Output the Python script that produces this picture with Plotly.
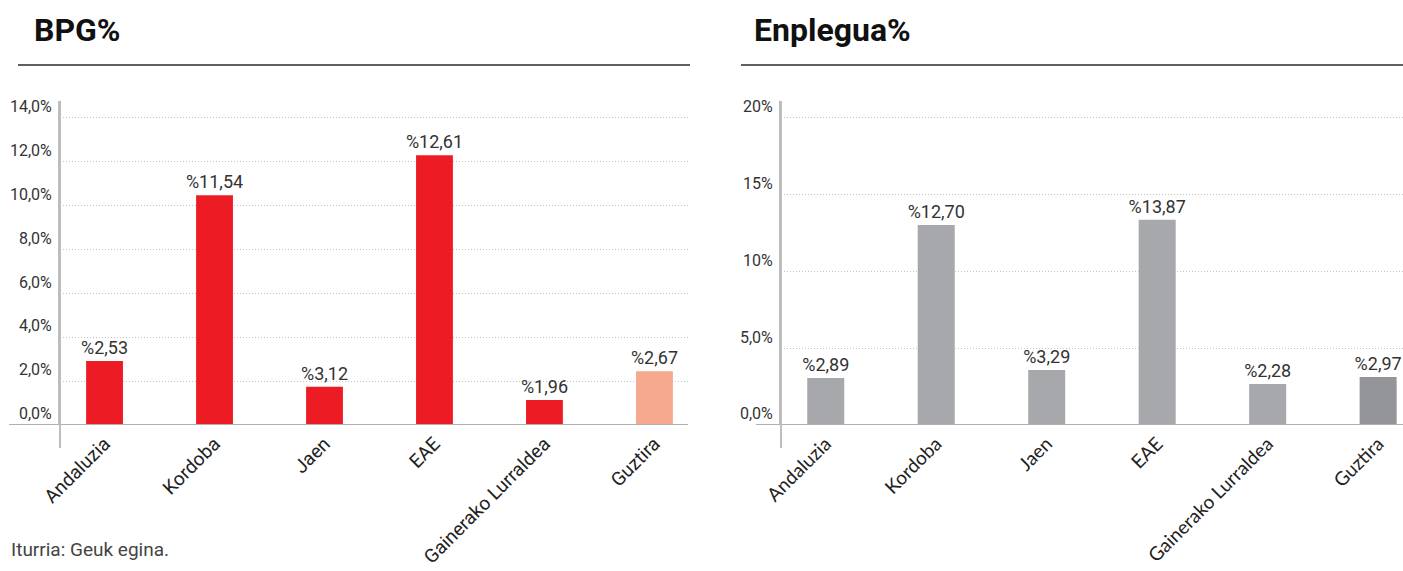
import plotly.graph_objects as go

# Datos
categorias = ["Andaluzia", "Kordoba", "Jaen", "EAE", "Gainerako Lurraldea", "Guztira"]

bpg_valores = [2.91, 10.45, 1.74, 12.27, 1.14, 2.45]
bpg_etiquetas = ["%2,53", "%11,54", "%3,12", "%12,61", "%1,96", "%2,67"]
bpg_ticks = [0, 2, 4, 6, 8, 10, 12, 14]
bpg_ticktext = ["0,0%", "2,0%", "4,0%", "6,0%", "8,0%", "10,0%", "12,0%", "14,0%"]

enplegua_valores = [3.06, 13.03, 3.58, 13.36, 2.67, 3.13]
enplegua_etiquetas = ["%2,89", "%12,70", "%3,29", "%13,87", "%2,28", "%2,97"]
enplegua_ticks = [0, 5, 10, 15, 20]
enplegua_ticktext = ["0,0%", "5,0%", "10%", "15%", "20%"]

# Colores
rojo = "#ED1C24"
salmon = "#F7A98F"
gris = "#A7A8AB"
gris_oscuro = "#949599"
colores_bpg = [rojo] * 5 + [salmon]
colores_enplegua = [gris] * 5 + [gris_oscuro]

W, H = 1403, 571
fuente = "Roboto"

fig = go.Figure()

fig.add_trace(go.Bar(
    x=categorias, y=bpg_valores, text=bpg_etiquetas, textposition="outside",
    marker=dict(color=colores_bpg, line=dict(width=0)), width=0.335,
    textfont=dict(family=fuente, size=18, color="#333333"), constraintext="none",
    cliponaxis=False, xaxis="x", yaxis="y", showlegend=False,
))
fig.add_trace(go.Bar(
    x=categorias, y=enplegua_valores, text=enplegua_etiquetas, textposition="outside",
    marker=dict(color=colores_enplegua, line=dict(width=0)), width=0.335,
    textfont=dict(family=fuente, size=18, color="#333333"), constraintext="none",
    cliponaxis=False, xaxis="x2", yaxis="y2", showlegend=False,
))

dom_y = [1 - 425 / H, 1 - 101 / H]

eje_x = dict(
    type="category", tickangle=-45, showgrid=False, zeroline=False,
    showline=False, ticks="", ticklabelstandoff=3, automargin=False,
)
eje_y = dict(
    showgrid=True, gridcolor="#c4c4c4", griddash="1px,2px", gridwidth=1,
    zeroline=False, showline=True, linecolor="#bdbdbd", linewidth=2,
    ticks="", ticklabelposition="outside top", ticklabelstandoff=3,
    tickfont=dict(family=fuente, size=16, color="#333333"), automargin=False,
)

fig.update_layout(
    width=W, height=H,
    margin=dict(l=0, r=0, t=0, b=0),
    plot_bgcolor="white", paper_bgcolor="white",
    xaxis=dict(eje_x, domain=[60 / W, 688 / W], range=[-0.405, 5.305],
               tickfont=dict(family=fuente, size=19, color="#222222")),
    yaxis=dict(eje_y, domain=dom_y, range=[0, 14.74],
               tickvals=bpg_ticks, ticktext=bpg_ticktext),
    xaxis2=dict(eje_x, domain=[781 / W, 1.0], range=[-0.405, 5.225], anchor="y2",
                tickfont=dict(family="Lato", size=19, color="#222222")),
    yaxis2=dict(eje_y, domain=dom_y, range=[0, 21.1], anchor="x2",
                tickvals=enplegua_ticks, ticktext=enplegua_ticktext),
)

# Títulos
for x, texto in [(32 / W, "BPG%"), (752 / W, "Enplegua%")]:
    fig.add_annotation(
        x=x, y=1 - 30 / H, xref="paper", yref="paper", xanchor="left", yanchor="middle",
        text=f"<b>{texto}</b>", showarrow=False,
        font=dict(family=fuente, size=32, color="#111111"),
    )

# Líneas bajo los títulos
fig.add_shape(type="line", xref="paper", yref="paper", x0=18 / W, x1=690 / W,
              y0=1 - 65 / H, y1=1 - 65 / H, line=dict(color="#606060", width=2))
fig.add_shape(type="line", xref="paper", yref="paper", x0=741 / W, x1=1.0,
              y0=1 - 65 / H, y1=1 - 65 / H, line=dict(color="#606060", width=2))

# Línea base y prolongación de los ejes verticales
fig.add_shape(type="line", xref="paper", yref="y", x0=9 / W, x1=688 / W, y0=0, y1=0,
              line=dict(color="#b0b0b0", width=2))
fig.add_shape(type="line", xref="paper", yref="y2", x0=756 / W, x1=1.0, y0=0, y1=0,
              line=dict(color="#b0b0b0", width=2))
for xr in ["x domain", "x2 domain"]:
    fig.add_shape(type="line", xref=xr, yref="paper", x0=0, x1=0,
                  y0=1 - 448 / H, y1=1 - 101 / H, line=dict(color="#bdbdbd", width=2))

# Fuente
fig.add_annotation(
    x=9 / W, y=1 - 549 / H, xref="paper", yref="paper", xanchor="left", yanchor="middle",
    text="Iturria: Geuk egina.", showarrow=False,
    font=dict(family=fuente, size=19, color="#444444"),
)

# sin margen del body para que la figura ocupe la ventana exacta
fig.write_html("out.html", config={"displayModeBar": False},
               post_script="document.body.style.margin='0';")
